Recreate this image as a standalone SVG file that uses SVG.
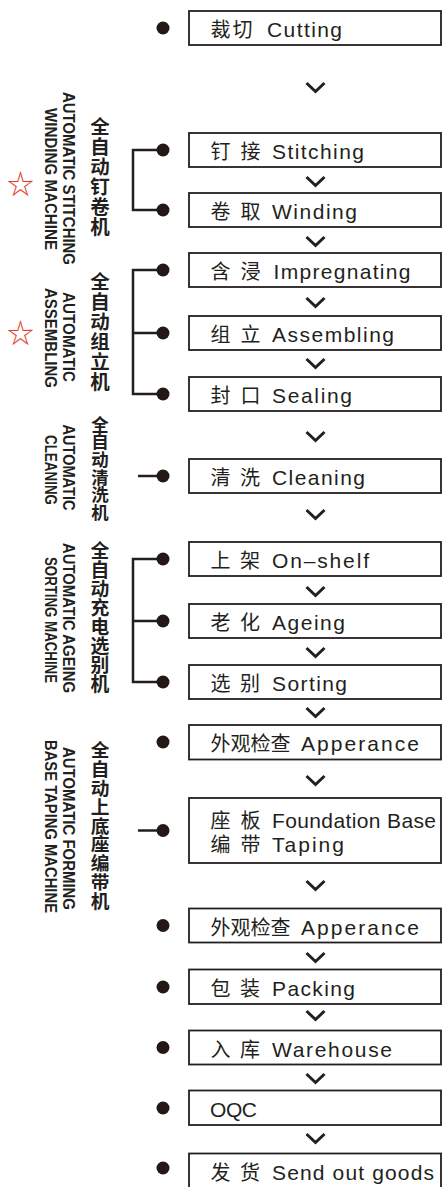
<svg xmlns="http://www.w3.org/2000/svg" width="442" height="1187" viewBox="0 0 442 1187">
<style>
.box{fill:#fff;stroke:#231f20;stroke-width:1.8}
.dot{fill:#231815}
.chev{fill:none;stroke:#231f20;stroke-width:3}
.br{fill:none;stroke:#231f20;stroke-width:2.5}
.t{font-family:"Liberation Sans","Noto Sans CJK SC",sans-serif;font-size:21px;fill:#231f20}
.zh{font-family:"Noto Sans CJK SC",sans-serif;font-size:20px}
.vz{font-family:"Noto Sans CJK SC",sans-serif;font-size:19.5px;font-weight:bold;fill:#231f20;writing-mode:vertical-rl;text-orientation:upright;letter-spacing:0.5px}
.ve{font-family:"Liberation Sans",sans-serif;font-size:17px;font-weight:bold;fill:#231f20;text-anchor:middle}
.star{font-family:"Noto Sans CJK SC","DejaVu Sans",sans-serif;font-size:27px;fill:#e4392b;text-anchor:middle}
</style>
<rect width="442" height="1187" fill="#fff"/>
<g id="connectors">
<path class="br" d="M163,150H133V210H163"/>
<path class="br" d="M163,270H133V394H163M133,333H163"/>
<path class="br" d="M138,476H163"/>
<path class="br" d="M163,559H133V682H163M133,621H163"/>
<path class="br" d="M138,830.5H163"/>
<path class="chev" d="M306.5,83L315.5,91.5L324.5,83"/>
<path class="chev" d="M306.5,177L315.5,185.5L324.5,177"/>
<path class="chev" d="M306.5,237L315.5,245.5L324.5,237"/>
<path class="chev" d="M306.5,298L315.5,306.5L324.5,298"/>
<path class="chev" d="M306.5,359L315.5,367.5L324.5,359"/>
<path class="chev" d="M306.5,432L315.5,440.5L324.5,432"/>
<path class="chev" d="M306.5,510L315.5,518.5L324.5,510"/>
<path class="chev" d="M306.5,587L315.5,595.5L324.5,587"/>
<path class="chev" d="M306.5,648L315.5,656.5L324.5,648"/>
<path class="chev" d="M306.5,708L315.5,716.5L324.5,708"/>
<path class="chev" d="M306.5,776L315.5,784.5L324.5,776"/>
<path class="chev" d="M306.5,881L315.5,889.5L324.5,881"/>
<path class="chev" d="M306.5,953L315.5,961.5L324.5,953"/>
<path class="chev" d="M306.5,1011L315.5,1019.5L324.5,1011"/>
<path class="chev" d="M306.5,1074L315.5,1082.5L324.5,1074"/>
<path class="chev" d="M306.5,1134L315.5,1142.5L324.5,1134"/>
</g>
<g id="label-stitch-wind">
<text class="star" x="20.5" y="194">☆</text>
<text class="vz" x="100" y="116.5">全自动钉卷机</text>
<text class="ve" transform="translate(63,178.5) rotate(90)" textLength="173" lengthAdjust="spacingAndGlyphs">AUTOMATIC STITCHING</text>
<text class="ve" transform="translate(44.5,179) rotate(90)" textLength="142" lengthAdjust="spacingAndGlyphs">WINDING MACHINE</text>
</g>
<g id="label-assembling">
<text class="star" x="20.5" y="343">☆</text>
<text class="vz" x="100" y="271.5">全自动组立机</text>
<text class="ve" transform="translate(63,337) rotate(90)" textLength="90" lengthAdjust="spacingAndGlyphs">AUTOMATIC</text>
<text class="ve" transform="translate(44.5,338) rotate(90)" textLength="100" lengthAdjust="spacingAndGlyphs">ASSEMBLING</text>
</g>
<g id="label-cleaning">
<text class="vz" x="100" y="415.5" style="font-size:17.4px;letter-spacing:0.2px">全自动清洗机</text>
<text class="ve" transform="translate(63,467.5) rotate(90)" textLength="86" lengthAdjust="spacingAndGlyphs">AUTOMATIC</text>
<text class="ve" transform="translate(44.5,470) rotate(90)" textLength="70" lengthAdjust="spacingAndGlyphs">CLEANING</text>
</g>
<g id="label-ageing">
<text class="vz" x="100" y="541.5" style="font-size:18.8px;letter-spacing:0.2px">全自动充电选别机</text>
<text class="ve" transform="translate(63,618) rotate(90)" textLength="150" lengthAdjust="spacingAndGlyphs">AUTOMATIC AGEING</text>
<text class="ve" transform="translate(44.5,620) rotate(90)" textLength="126" lengthAdjust="spacingAndGlyphs">SORTING MACHINE</text>
</g>
<g id="label-taping">
<text class="vz" x="100" y="740.5" style="font-size:18.7px;letter-spacing:0.2px">全自动上底座编带机</text>
<text class="ve" transform="translate(63,828.5) rotate(90)" textLength="163" lengthAdjust="spacingAndGlyphs">AUTOMATIC FORMING</text>
<text class="ve" transform="translate(44.5,826.5) rotate(90)" textLength="173" lengthAdjust="spacingAndGlyphs">BASE TAPING MACHINE</text>
</g>
<g id="n-cutting"><circle class="dot" cx="163" cy="28" r="6.5"/><rect class="box" x="189" y="11" width="252" height="34"/><text class="t" y="37"><tspan class="zh" x="210.5">裁</tspan><tspan class="zh" x="232.5">切</tspan><tspan x="267" textLength="75">Cutting</tspan></text></g>
<g id="n-stitching"><circle class="dot" cx="163" cy="150" r="6.5"/><rect class="box" x="189" y="133" width="252" height="34"/><text class="t" y="159"><tspan class="zh" x="210.5">钉</tspan><tspan class="zh" x="240.5">接</tspan><tspan x="272" textLength="92">Stitching</tspan></text></g>
<g id="n-winding"><circle class="dot" cx="163" cy="210" r="6.5"/><rect class="box" x="189" y="193" width="252" height="34"/><text class="t" y="219"><tspan class="zh" x="210.5">卷</tspan><tspan class="zh" x="240.5">取</tspan><tspan x="272" textLength="85">Winding</tspan></text></g>
<g id="n-impregnating"><circle class="dot" cx="163" cy="270" r="6.5"/><rect class="box" x="189" y="253" width="252" height="34"/><text class="t" y="279"><tspan class="zh" x="210.5">含</tspan><tspan class="zh" x="240.5">浸</tspan><tspan x="273.5" textLength="137">Impregnating</tspan></text></g>
<g id="n-assembling"><circle class="dot" cx="163" cy="333" r="6.5"/><rect class="box" x="189" y="316" width="252" height="34"/><text class="t" y="342"><tspan class="zh" x="210.5">组</tspan><tspan class="zh" x="240.5">立</tspan><tspan x="272" textLength="122">Assembling</tspan></text></g>
<g id="n-sealing"><circle class="dot" cx="163" cy="394" r="6.5"/><rect class="box" x="189" y="377" width="252" height="34"/><text class="t" y="403"><tspan class="zh" x="210.5">封</tspan><tspan class="zh" x="240.5">口</tspan><tspan x="272" textLength="80">Sealing</tspan></text></g>
<g id="n-cleaning"><circle class="dot" cx="163" cy="476" r="6.5"/><rect class="box" x="189" y="459" width="252" height="34"/><text class="t" y="485"><tspan class="zh" x="210.5">清</tspan><tspan class="zh" x="240">洗</tspan><tspan x="272" textLength="93">Cleaning</tspan></text></g>
<g id="n-onshelf"><circle class="dot" cx="163" cy="559" r="6.5"/><rect class="box" x="189" y="542" width="252" height="34"/><text class="t" y="568"><tspan class="zh" x="210.5">上</tspan><tspan class="zh" x="240">架</tspan><tspan x="272" textLength="97">On–shelf</tspan></text></g>
<g id="n-ageing"><circle class="dot" cx="163" cy="621" r="6.5"/><rect class="box" x="189" y="604" width="252" height="34"/><text class="t" y="630"><tspan class="zh" x="210.5">老</tspan><tspan class="zh" x="240">化</tspan><tspan x="272" textLength="73">Ageing</tspan></text></g>
<g id="n-sorting"><circle class="dot" cx="163" cy="682" r="6.5"/><rect class="box" x="189" y="665" width="252" height="34"/><text class="t" y="691"><tspan class="zh" x="210.5">选</tspan><tspan class="zh" x="240">别</tspan><tspan x="272" textLength="75">Sorting</tspan></text></g>
<g id="n-apperance1"><circle class="dot" cx="163" cy="742" r="6.5"/><rect class="box" x="189" y="725" width="252" height="34.5"/><text class="t" y="751"><tspan class="zh" x="210.5">外观检查</tspan><tspan x="301" textLength="118">Apperance</tspan></text></g>
<g id="n-foundation"><circle class="dot" cx="163" cy="830.5" r="6.5"/><rect class="box" x="189" y="798" width="252" height="65"/><text class="t"><tspan class="zh" x="210.5" y="828">座</tspan><tspan class="zh" x="240.5" y="828">板</tspan><tspan x="272" y="828" textLength="164">Foundation Base</tspan></text><text class="t"><tspan class="zh" x="210.5" y="851.5">编</tspan><tspan class="zh" x="240.5" y="851.5">带</tspan><tspan x="272" y="851.5" textLength="72">Taping</tspan></text></g>
<g id="n-apperance2"><circle class="dot" cx="163" cy="925.5" r="6.5"/><rect class="box" x="189" y="908.5" width="252" height="34"/><text class="t" y="934.5"><tspan class="zh" x="210.5">外观检查</tspan><tspan x="301" textLength="118">Apperance</tspan></text></g>
<g id="n-packing"><circle class="dot" cx="163" cy="987" r="6.5"/><rect class="box" x="189" y="969.5" width="252" height="34.5"/><text class="t" y="996"><tspan class="zh" x="210.5">包</tspan><tspan class="zh" x="240">装</tspan><tspan x="272" textLength="83">Packing</tspan></text></g>
<g id="n-warehouse"><circle class="dot" cx="163" cy="1047.5" r="6.5"/><rect class="box" x="189" y="1030.5" width="252" height="34"/><text class="t" y="1056.5"><tspan class="zh" x="210.5">入</tspan><tspan class="zh" x="240">库</tspan><tspan x="272" textLength="120">Warehouse</tspan></text></g>
<g id="n-oqc"><circle class="dot" cx="163" cy="1108" r="6.5"/><rect class="box" x="189" y="1090.5" width="252" height="34.5"/><text class="t" y="1117" x="210" textLength="47">OQC</text></g>
<g id="n-send"><circle class="dot" cx="163" cy="1168" r="6.5"/><rect class="box" x="189" y="1153.5" width="252" height="40"/><text class="t" y="1179.5"><tspan class="zh" x="210.5">发</tspan><tspan class="zh" x="240">货</tspan><tspan x="272" textLength="162">Send out goods</tspan></text></g>
</svg>
